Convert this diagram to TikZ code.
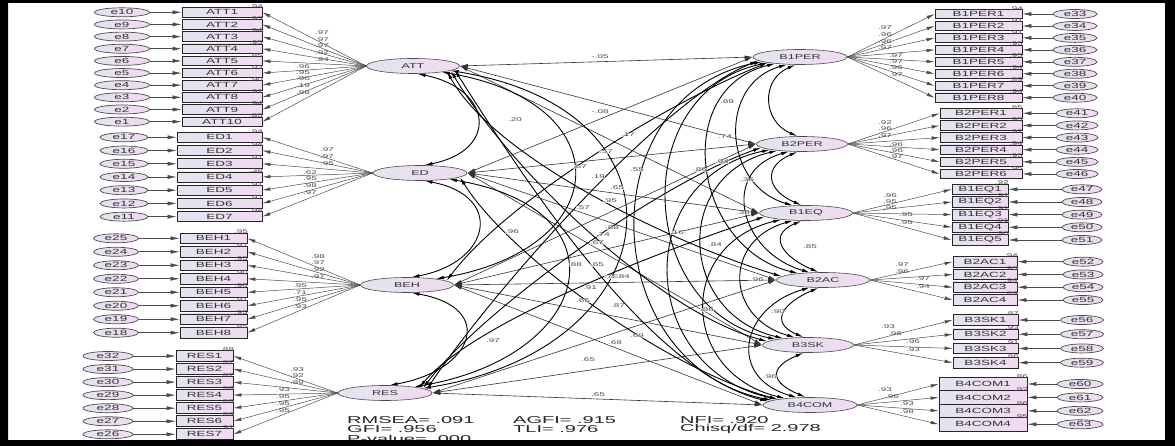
\documentclass[tikz,border=0pt]{standalone}
\usepackage{fontspec}
\setmainfont{Liberation Sans}[FakeStretch=1.8]
\newfontfamily\fitfont{Liberation Sans}[FakeStretch=2.0]
\usetikzlibrary{arrows.meta,shapes.geometric,calc}
\definecolor{fa}{RGB}{226,228,240}
\definecolor{fb}{RGB}{242,218,242}
\newcommand\lblock[9]{%
 \foreach \i in {1,...,#2}{%
  \pgfmathsetmacro\yy{#3+#4*(\i-1)}%
  \pgfmathtruncatemacro\ee{#9}%
  \node[ind,minimum width=#6pt,minimum height=\bh] (#1\i) at (#5,\yy) {#1\i};%
  \node[err,minimum width=#8pt] (e\ee) at (#7,\yy) {e\ee};%
  \draw[ear] (e\ee) -- (#1\i);%
  \draw[ar] (#1.west) -- (#1\i.east);%
 }}
\newcommand\rblock[9]{%
 \foreach \i in {1,...,#2}{%
  \pgfmathsetmacro\yy{#3+#4*(\i-1)}%
  \pgfmathtruncatemacro\ee{#9}%
  \node[ind,minimum width=#6pt,minimum height=\bh] (#1\i) at (#5,\yy) {#1\i};%
  \node[err,minimum width=#8pt] (e\ee) at (#7,\yy) {e\ee};%
  \draw[ear] (e\ee) -- (#1\i);%
  \draw[ar] (#1.east) -- (#1\i.west);%
 }}
\newcommand\rsq[2]{\foreach \v [count=\i] in {#2}{\node[num,anchor=south east] (r#1\i) at ($(#1\i.north east)+(1,1.8)$) {\v};}}
\newcommand\rcv[6]{\draw[ccov] (#1.#3) .. controls ($(#1.#3)+(-#5,#6)$) and ($(#2.#4)+(-#5,-#6)$) .. (#2.#4);}
\newcommand\lcv[6]{\draw[ccov] (#1.#3) .. controls ($(#1.#3)+(#5,#6)$) and ($(#2.#4)+(#5,-#6)$) .. (#2.#4);}
\begin{document}
\begin{tikzpicture}[x=1pt,y=-1pt,
  ind/.style={rectangle,draw=black!85,line width=0.75pt,left color=fa,right color=fb,inner sep=0pt,font=\fontsize{7.5}{8}\selectfont,text=black!80},
  err/.style={ellipse,draw=black!70,line width=0.7pt,left color=fa,right color=fb,inner sep=0pt,minimum height=9pt,font=\fontsize{7.5}{8}\selectfont,text=black!80},
  lat/.style={ellipse,draw=black!70,line width=0.6pt,left color=fa,right color=fb,inner sep=0pt,minimum height=15pt,font=\fontsize{7}{8}\selectfont,text=black!80},
  ar/.style={-{Latex[length=8pt,width=3.5pt]},draw=black!70,line width=0.5pt},
  ear/.style={-{Latex[length=9pt,width=4pt]},draw=black!70,line width=0.6pt},
  cov/.style={{Latex[length=8pt,width=3.5pt]}-{Latex[length=8pt,width=3.5pt]},draw=black!80,line width=0.6pt},
  ccov/.style={{Latex[length=8pt,width=3.5pt]}-{Latex[length=8pt,width=3.5pt]},draw=black,line width=0.9pt},
  num/.style={font=\fontsize{5.5}{6}\selectfont,text=black!70,inner sep=0.3pt},
  fitstat/.style={font=\fitfont\fontsize{10}{11}\selectfont,anchor=west,inner sep=0pt,text=black!85}]
\useasboundingbox (0,0) rectangle (1175,446);
\fill[white] (0,0) rectangle (1175,446);
% latent factors
\node[lat,minimum width=93pt] (ATT) at (413,66) {ATT};
\node[lat,minimum width=94pt] (ED) at (420,173) {ED};
\node[lat,minimum width=93pt] (BEH) at (407,285) {BEH};
\node[lat,minimum width=94pt] (RES) at (385,393) {RES};
\node[lat,minimum width=94pt] (B1PER) at (800,57) {B1PER};
\node[lat,minimum width=91pt] (B2PER) at (802,144) {B2PER};
\node[lat,minimum width=93pt] (B1EQ) at (806,213) {B1EQ};
\node[lat,minimum width=93pt] (B2AC) at (823,280) {B2AC};
\node[lat,minimum width=91pt] (B3SK) at (808,345) {B3SK};
\node[lat,minimum width=94pt] (B4COM) at (810,405) {B4COM};
% indicators
\def\bh{9.5pt}
\lblock{ATT}{10}{12.3}{12.15}{222}{80}{122}{55}{11-\i}
\def\bh{10pt}
\lblock{ED}{7}{137.3}{13.23}{219.5}{85}{124}{48}{18-\i}
\def\bh{10.5pt}
\lblock{BEH}{8}{238.3}{13.49}{213.5}{67}{116}{45}{26-\i}
\def\bh{11pt}
\lblock{RES}{7}{356}{13.05}{204.5}{57}{108}{50}{33-\i}
\def\bh{9.5pt}
\rblock{B1PER}{8}{14}{11.96}{978.5}{87}{1075}{44}{32+\i}
\rblock{B2PER}{6}{113.3}{12.14}{981}{82}{1077}{42}{40+\i}
\def\bh{10.5pt}
\rblock{B1EQ}{5}{189.3}{12.67}{980}{56}{1082}{40}{46+\i}
\rblock{B2AC}{4}{261.7}{12.77}{985}{64}{1083}{40}{51+\i}
\rblock{B3SK}{4}{320}{14.23}{985.5}{65}{1082}{43}{55+\i}
\def\bh{13.4pt}
\rblock{B4COM}{4}{384}{13.43}{983}{88}{1080}{46}{59+\i}
% squared multiple correlations
\rsq{ATT}{.94,.93,.94,.95,.85,.93,.90,.91,.94,.85}
\rsq{ED}{.94,.94,.91,.38,.91,.97,.94}
\rsq{BEH}{.95,.97,.95,.90,.90,.91,.95,.85}
\rsq{RES}{.88,.87,.87,.88,.89,.89,.91}
\rsq{B1PER}{.94,.91,.91,.95,.95,.94,.89,.94}
\rsq{B2PER}{.85,.95,.92,.94,.95,.95}
\rsq{B1EQ}{.92,.91,.91,.91,.90}
\rsq{B2AC}{.94,.95,.94,.89}
\rsq{B3SK}{.87,.93,.91,.86}
\rsq{B4COM}{.86,.92,.86,.95}
% loadings
\foreach \x/\y/\t [count=\i] in {322/33/.97,322/40/.97,322/46/.97,322/53/.92,322/60/.94,303/67/.96,303/73/.95,303/79/.96,303/86/.19,303/93/.98,
 327/150/.97,327/157/.97,327/164/.95,310/173/.62,310/179/.95,310/186/.98,310/193/.97,
 318/257/.98,318/263/.97,318/270/.92,318/277/.97,300/286/.95,300/293/.71,300/300/.95,300/307/.93,
 297/370/.93,297/376/.92,297/383/.89,283/390/.93,283/397/.95,283/404/.95,283/411/.95,
 885/28/.97,885/35/.96,885/42/.96,885/48/.97,896/56/.97,896/62/.97,896/68/.96,896/75/.97,
 885/123/.92,885/129/.96,885/136/.97,896/145/.96,896/151/.96,896/157/.97,
 890/196/.96,890/202/.95,890/208/.95,906/215/.95,906/223/.95,
 902/265/.97,902/272/.96,923/279/.97,923/287/.94,
 888/327/.93,895/334/.96,913/342/.96,913/350/.93,
 885/390/.93,892/397/.96,907/404/.93,907/412/.98}
 {\node[num] (ld\i) at (\x,\y) {\t};}
% cross-group covariances, straight
\foreach \a/\b in {ATT/B1PER,ATT/B2PER,ATT/B1EQ,ED/B1PER,ED/B2PER,ED/B1EQ,ED/B2AC,ED/B3SK,
 BEH/B2PER,BEH/B1EQ,BEH/B2AC,BEH/B3SK,BEH/B4COM,RES/B2AC,RES/B3SK,RES/B4COM}
 {\draw[cov] (\a.east) -- (\b.west);}
% cross-group covariances, curved
\draw[ccov] (ATT.-5) .. controls ($(ATT.-5)+(70,110)$) and ($(B4COM.175)+(-120,-30)$) .. (B4COM.175);
\draw[ccov] (ATT.-7) .. controls ($(ATT.-7)+(60,100)$) and ($(B3SK.175)+(-110,-30)$) .. (B3SK.175);
\draw[ccov] (ATT.-9) .. controls ($(ATT.-9)+(50,90)$) and ($(B2AC.175)+(-100,-30)$) .. (B2AC.175);
\draw[ccov] (ED.-6) .. controls ($(ED.-6)+(50,80)$) and ($(B4COM.170)+(-110,-30)$) .. (B4COM.170);
\draw[ccov] (RES.5) .. controls ($(RES.5)+(60,-90)$) and ($(B1PER.-175)+(-100,40)$) .. (B1PER.-175);
\draw[ccov] (RES.7) .. controls ($(RES.7)+(60,-80)$) and ($(B2PER.-175)+(-100,35)$) .. (B2PER.-175);
\draw[ccov] (RES.9) .. controls ($(RES.9)+(60,-70)$) and ($(B1EQ.-175)+(-90,30)$) .. (B1EQ.-175);
\draw[ccov] (BEH.6) .. controls ($(BEH.6)+(60,-80)$) and ($(B1PER.-170)+(-100,40)$) .. (B1PER.-170);
% within left group
\lcv{ATT}{ED}{-60}{60}{75}{15}
\lcv{ED}{BEH}{-60}{60}{80}{15}
\lcv{BEH}{RES}{-60}{60}{85}{15}
\lcv{ATT}{BEH}{-12}{12}{180}{30}
\lcv{ED}{RES}{-12}{12}{180}{30}
\lcv{ATT}{RES}{-7}{7}{250}{40}
% within right group
\rcv{B1PER}{B2PER}{-120}{120}{35}{15}
\rcv{B2PER}{B1EQ}{-120}{120}{35}{15}
\rcv{B1EQ}{B2AC}{-120}{120}{35}{15}
\rcv{B2AC}{B3SK}{-120}{120}{35}{15}
\rcv{B3SK}{B4COM}{-120}{120}{35}{15}
\rcv{B1PER}{B1EQ}{-150}{150}{70}{20}
\rcv{B2PER}{B2AC}{-150}{150}{70}{20}
\rcv{B1EQ}{B3SK}{-150}{150}{70}{20}
\rcv{B2AC}{B4COM}{-150}{150}{70}{20}
\rcv{B1PER}{B2AC}{-165}{165}{105}{25}
\rcv{B2PER}{B3SK}{-165}{165}{105}{25}
\rcv{B1EQ}{B4COM}{-165}{165}{105}{25}
\rcv{B1PER}{B3SK}{-170}{170}{140}{30}
\rcv{B2PER}{B4COM}{-170}{170}{140}{30}
\rcv{B1PER}{B4COM}{-173}{173}{175}{35}
% covariance labels
\foreach \x/\y/\t [count=\i] in {600/57/-.05,515/120/.20,600/112/-.08,628/135/.17,606/152/.57,580/167/.57,637/170/.55,
 598/177/.19,617/188/.65,610/201/.95,583/208/.57,612/228/.88,603/235/.74,512/232/.96,597/243/.67,575/265/.88,597/265/.65,
 611/277/.78,623/277/.84,590/288/.91,583/301/.65,618/306/.87,493/341/.97,615/343/.68,637/336/.69,588/360/.65,598/395/.65,
 677/233/.16,715/245/.84,707/310/.86,700/170/.86,727/102/.89,725/137/.74,747/180/.36,743/213/.38,722/162/.94,
 757/280/.96,810/247/.85,778/312/.90,770/377/.96}
 {\node[num,fill=white,fill opacity=0.6,text opacity=1] (cl\i) at (\x,\y) {\t};}
% fit statistics
\node[fitstat] (f1) at (347,420) {RMSEA= .091};
\node[fitstat] (f2) at (347,429.3) {GFI= .956};
\node[fitstat] (f3) at (347,438.5) {P-value= .000};
\node[fitstat] (f4) at (513,420) {AGFI= .915};
\node[fitstat] (f5) at (513,429.3) {TLI= .976};
\node[fitstat] (f6) at (680,420) {NFI= .920};
\node[fitstat] (f7) at (680,429.3) {Chisq/df= 2.978};
% frame
\fill[black,even odd rule] (0,0) rectangle (1175,446) (8,3) rectangle (1165,440);
\end{tikzpicture}
\end{document}
